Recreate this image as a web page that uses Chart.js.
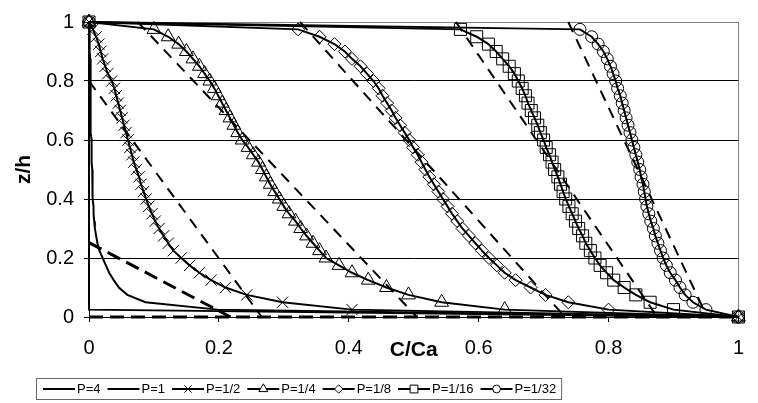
<!DOCTYPE html>
<html lang="en">
<head>
<meta charset="UTF-8">
<title>z/h against C/Ca</title>
<script src="https://cdn.jsdelivr.net/npm/chart.js"></script>
<style>
  html, body { margin: 0; padding: 0; background: #fff; }
</style>
</head>
<body>
<canvas id="profileChart" width="758" height="403"></canvas>
<script>
// z/h levels of every computed profile, surface (1) down to bed (0)
const zLevels = [1, 0.975, 0.95, 0.925, 0.9, 0.875, 0.85, 0.825, 0.8, 0.775, 0.75,
  0.725, 0.7, 0.675, 0.65, 0.625, 0.6, 0.575, 0.55, 0.525, 0.5,
  0.475, 0.45, 0.425, 0.4, 0.375, 0.35, 0.325, 0.3, 0.275, 0.25,
  0.225, 0.2, 0.175, 0.15, 0.125, 0.1, 0.075, 0.05, 0.025, 0];

const seriesLabels = ['P=4', 'P=1', 'P=1/2', 'P=1/4', 'P=1/8', 'P=1/16', 'P=1/32'];

// C/Ca read at each z level
const cP4 = [0, 0, 0, 0, 0, 0, 0, 0, 0, 0, 0,
  0, 0, 0, 0, 0, 0, 0, 0, 0, 0,
  0, 0, 0, 0, 0, 0, 0, 0, 0, 0,
  0, 0, 0, 0, 0, 0, 0, 0, 0, 1];
const cP1 = [0, 0.001, 0.001, 0.001, 0.001, 0.002, 0.002, 0.002, 0.002, 0.002, 0.002,
  0.003, 0.003, 0.003, 0.003, 0.003, 0.004, 0.004, 0.004, 0.004, 0.005,
  0.005, 0.005, 0.006, 0.006, 0.007, 0.007, 0.008, 0.009, 0.011, 0.013,
  0.016, 0.021, 0.026, 0.031, 0.038, 0.046, 0.059, 0.087, 0.198, 1];
const cHalf = [0, 0.006, 0.011, 0.015, 0.018, 0.021, 0.025, 0.029, 0.035, 0.039, 0.042,
  0.045, 0.048, 0.051, 0.054, 0.057, 0.060, 0.063, 0.066, 0.069, 0.073,
  0.077, 0.080, 0.084, 0.088, 0.092, 0.097, 0.102, 0.108, 0.115, 0.122,
  0.130, 0.142, 0.155, 0.170, 0.188, 0.210, 0.243, 0.298, 0.405, 1];
const cQuarter = [0, 0.100, 0.122, 0.138, 0.150, 0.160, 0.170, 0.178, 0.186, 0.193, 0.199,
  0.205, 0.211, 0.217, 0.223, 0.229, 0.236, 0.245, 0.253, 0.261, 0.267,
  0.273, 0.279, 0.286, 0.293, 0.300, 0.308, 0.318, 0.326, 0.335, 0.345,
  0.355, 0.365, 0.385, 0.405, 0.430, 0.458, 0.492, 0.543, 0.640, 1];
const cEighth = [0, 0.322, 0.355, 0.378, 0.394, 0.405, 0.418, 0.428, 0.438, 0.446, 0.452,
  0.459, 0.466, 0.472, 0.479, 0.486, 0.493, 0.499, 0.506, 0.512, 0.518,
  0.524, 0.531, 0.538, 0.545, 0.552, 0.559, 0.567, 0.575, 0.585, 0.595,
  0.605, 0.616, 0.628, 0.640, 0.657, 0.680, 0.703, 0.738, 0.800, 1];
const cSixteenth = [0, 0.572, 0.597, 0.615, 0.627, 0.637, 0.647, 0.655, 0.661, 0.667, 0.672,
  0.676, 0.681, 0.686, 0.691, 0.695, 0.700, 0.704, 0.709, 0.713, 0.717,
  0.722, 0.726, 0.730, 0.734, 0.739, 0.744, 0.749, 0.754, 0.760, 0.765,
  0.772, 0.779, 0.787, 0.797, 0.808, 0.824, 0.842, 0.864, 0.900, 1];
const cThirtySecond = [0, 0.756, 0.774, 0.784, 0.792, 0.798, 0.803, 0.807, 0.811, 0.814, 0.818,
  0.821, 0.824, 0.827, 0.830, 0.833, 0.836, 0.839, 0.842, 0.845, 0.848,
  0.850, 0.853, 0.855, 0.857, 0.859, 0.862, 0.865, 0.869, 0.872, 0.876,
  0.880, 0.884, 0.889, 0.895, 0.903, 0.910, 0.918, 0.930, 0.950, 1];

// straight-line approximations (dashed), C/Ca and z/h end points
const dashP4X = [0, 1];               const dashP4Z = [0, 0];
const dashP1X = [0, 0.218];           const dashP1Z = [0.252, 0];
const dashHalfX = [0, 0.266];         const dashHalfZ = [0.80, 0];
const dashQuarterX = [0.075, 0.505];  const dashQuarterZ = [1, 0];
const dashEighthX = [0.325, 0.733];   const dashEighthZ = [1, 0];
const dashSixteenthX = [0.565, 0.875]; const dashSixteenthZ = [1, 0];
const dashThirtySecondX = [0.738, 0.952]; const dashThirtySecondZ = [1, 0];

const xTicks = [0, 0.2, 0.4, 0.6, 0.8, 1];
const yTicks = [0, 0.2, 0.4, 0.6, 0.8, 1];

const profiles = [cP4, cP1, cHalf, cQuarter, cEighth, cSixteenth, cThirtySecond];
const markerStyles = [null, null, 'crossRot', 'triangle', 'rectRot', 'rect', 'circle'];
const markerSizes = [0, 0, 8, 8, 6.5, 8.5, 6];

const fontFamily = '"Liberation Sans", Arial, sans-serif';
Chart.defaults.font.family = fontFamily;
Chart.defaults.color = '#000';

function toPoints(xs, zs) {
    return xs.map((x, i) => ({ x: x, y: zs[i] }));
}

// 0, 0.2 ... 1 written the way Excel shows them
function tickText(v) {
    return String(Math.round(v * 10) / 10);
}

const datasets = profiles.map((xs, i) => ({
    label: seriesLabels[i],
    data: toPoints(xs, zLevels),
    borderColor: '#000',
    borderWidth: 2,
    pointStyle: markerStyles[i] || 'circle',
    pointRadius: markerStyles[i] ? markerSizes[i] : 0,
    pointBorderWidth: 1,
    pointBorderColor: '#000',
    pointBackgroundColor: 'rgba(0,0,0,0)',
    showLine: true,
    tension: 0,
    clip: false
}));

const dashSets = [
    [dashP4X, dashP4Z, 3, [14, 7]],
    [dashP1X, dashP1Z, 3, [14, 7]],
    [dashHalfX, dashHalfZ, 2, [11, 8]],
    [dashQuarterX, dashQuarterZ, 2, [11, 8]],
    [dashEighthX, dashEighthZ, 2, [11, 8]],
    [dashSixteenthX, dashSixteenthZ, 2, [11, 8]],
    [dashThirtySecondX, dashThirtySecondZ, 2, [11, 8]]
];
dashSets.forEach(d => {
    datasets.push({
        label: '',
        inLegend: false,
        data: toPoints(d[0], d[1]),
        borderColor: '#000',
        borderWidth: d[2],
        borderDash: d[3],
        pointRadius: 0,
        showLine: true,
        tension: 0,
        clip: false
    });
});

// Excel-like legend: line sample with marker in the middle, in a grey box
const boxLegend = {
    id: 'boxLegend',
    afterDraw(chart) {
        const ctx = chart.ctx;
        const cy = 389;
        const lineLen = 32;
        let x = 43;
        ctx.save();
        ctx.font = '13px ' + fontFamily;
        ctx.textBaseline = 'middle';
        ctx.textAlign = 'left';
        chart.data.datasets.forEach((ds, i) => {
            if (ds.inLegend === false) return;
            ctx.strokeStyle = '#000';
            ctx.lineWidth = 2;
            ctx.setLineDash([]);
            ctx.beginPath();
            ctx.moveTo(x, cy);
            ctx.lineTo(x + lineLen, cy);
            ctx.stroke();
            if (markerStyles[i]) {
                ctx.lineWidth = 1;
                ctx.fillStyle = '#fff';
                Chart.helpers.drawPoint(ctx, {
                    pointStyle: markerStyles[i],
                    radius: markerSizes[i] * 0.65,
                    rotation: 0,
                    borderWidth: 1
                }, x + lineLen / 2, cy);
            }
            ctx.fillStyle = '#000';
            const tx = x + lineLen + 2;
            ctx.fillText(ds.label, tx, cy);
            x = tx + ctx.measureText(ds.label).width + 7;
        });
        ctx.strokeStyle = '#666';
        ctx.lineWidth = 1;
        ctx.strokeRect(36.5, 378.5, x - 2 - 36, 21);
        ctx.restore();
    }
};

new Chart(document.getElementById('profileChart'), {
    type: 'scatter',
    data: { datasets: datasets },
    options: {
        responsive: false,
        animation: false,
        events: [],
        layout: { padding: { top: 18, right: 6, bottom: 0, left: 0 } },
        plugins: {
            legend: { display: false },
            tooltip: { enabled: false }
        },
        scales: {
            x: {
                type: 'linear',
                min: 0,
                max: 1,
                afterBuildTicks: s => { s.ticks = xTicks.map(v => ({ value: v })); },
                afterFit: s => { s.height = 86; },
                ticks: { font: { size: 20 }, color: '#000', padding: 14, callback: tickText },
                grid: {
                    color: c => (c.tick && c.tick.value === 1) ? '#808080' : 'rgba(0,0,0,0)',
                    tickColor: '#000',
                    tickLength: 5,
                    lineWidth: 1
                },
                border: { color: '#000', width: 1 },
                title: {
                    display: true,
                    text: 'C/Ca',
                    font: { size: 21, weight: 'bold' },
                    color: '#000',
                    padding: { top: 0, bottom: 40 }
                }
            },
            y: {
                type: 'linear',
                min: 0,
                max: 1,
                afterBuildTicks: s => { s.ticks = yTicks.map(v => ({ value: v })); },
                afterFit: s => { s.width = 89; },
                ticks: { font: { size: 20 }, color: '#000', padding: 10, callback: tickText },
                grid: {
                    color: c => (c.tick && c.tick.value === 1) ? '#808080' : '#000',
                    tickColor: '#000',
                    tickLength: 5,
                    lineWidth: 1
                },
                border: { color: '#000', width: 1 },
                title: {
                    display: true,
                    text: 'z/h',
                    font: { size: 21, weight: 'bold' },
                    color: '#000',
                    padding: { top: 12, bottom: 0 }
                }
            }
        }
    },
    plugins: [boxLegend]
});
</script>
</body>
</html>
